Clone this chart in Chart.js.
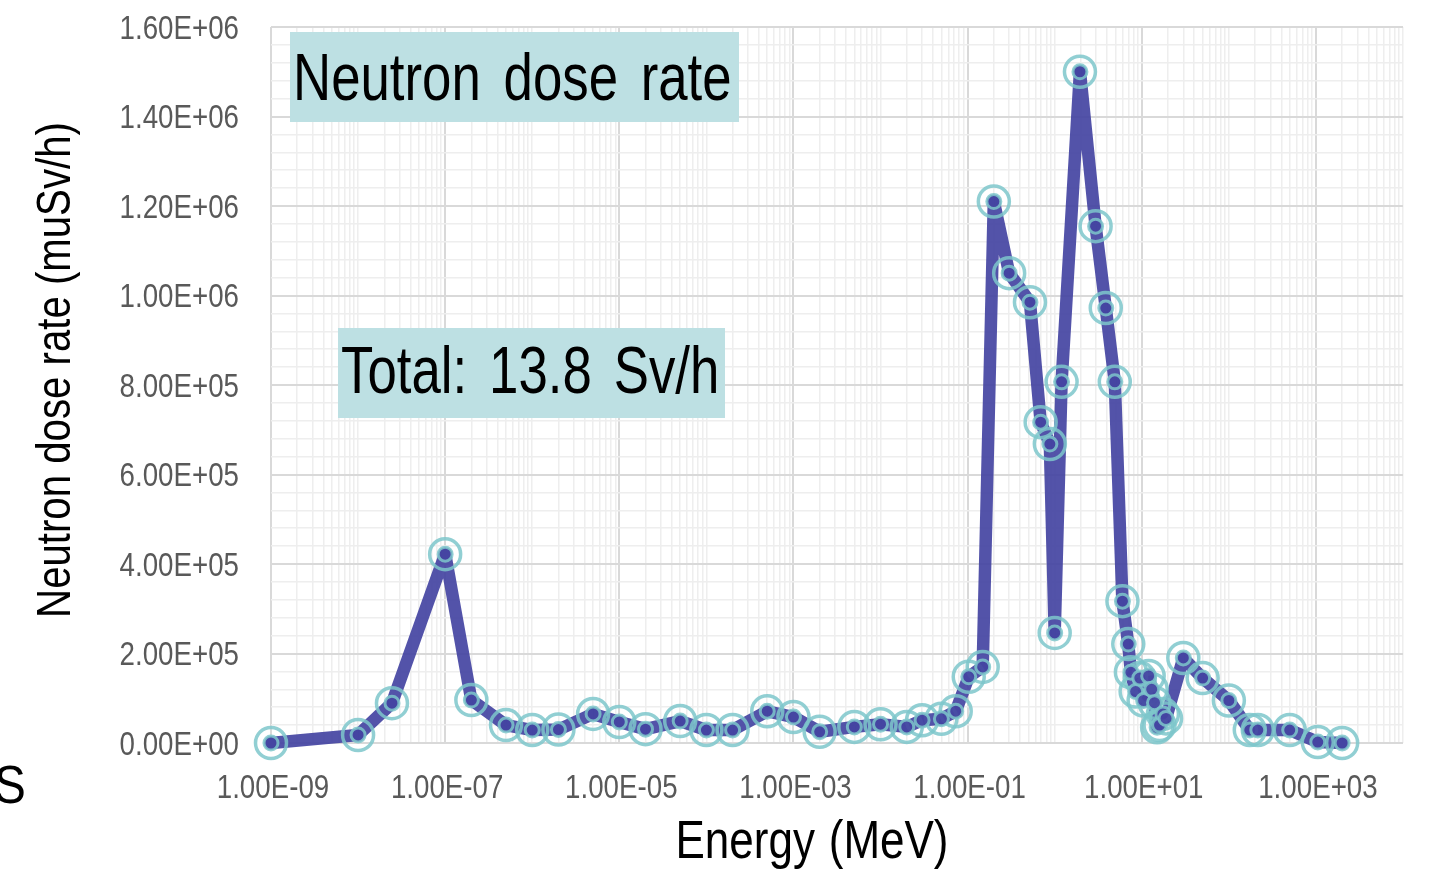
<!DOCTYPE html>
<html>
<head>
<meta charset="utf-8">
<title>Neutron dose rate</title>
<script src="https://cdn.jsdelivr.net/npm/chart.js@4.4.1/dist/chart.umd.min.js"></script>
<style>
  html, body { margin: 0; padding: 0; background: #ffffff; }
  canvas { display: block; }
</style>
</head>
<body>
<canvas id="doseChart" width="1430" height="877"></canvas>
<script>
// Neutron dose rate spectrum: energy bin (MeV) -> dose rate (muSv/h)
const energyMeV = [
  1e-9, 1e-8, 2.45e-8, 1e-7, 2e-7, 5e-7, 1e-6, 2e-6, 5e-6, 1e-5,
  2e-5, 5e-5, 1e-4, 2e-4, 5e-4, 1e-3, 2e-3, 5e-3, 1e-2, 2e-2,
  3e-2, 5e-2, 7.3e-2, 0.103, 0.149, 0.2, 0.3, 0.52, 0.69, 0.88,
  1.0, 1.2, 1.95, 2.95, 3.86, 4.9, 6.0, 7.0, 7.5, 8.5,
  9.5, 10.5, 12, 13, 14, 15, 16, 17.5, 19, 30,
  50, 100, 174, 215, 500, 1050, 2000
];
const doseRate = [
  0, 1.8e4, 8.9e4, 4.22e5, 9.6e4, 4.0e4, 2.9e4, 3.0e4, 6.5e4, 4.7e4,
  3.1e4, 4.9e4, 2.9e4, 2.9e4, 7.1e4, 5.8e4, 2.5e4, 3.6e4, 4.2e4, 3.6e4,
  5.1e4, 5.4e4, 7.1e4, 1.48e5, 1.70e5, 1.21e6, 1.05e6, 9.85e5, 7.17e5, 6.68e5,
  2.46e5, 8.07e5, 1.50e6, 1.155e6, 9.72e5, 8.07e5, 3.17e5, 2.21e5, 1.58e5, 1.15e5,
  1.45e5, 9.5e4, 1.5e5, 1.2e5, 9.0e4, 3.5e4, 4.0e4, 6.5e4, 5.5e4, 1.9e5,
  1.45e5, 9.5e4, 2.9e4, 2.9e4, 2.9e4, 2e3, 0
];

// axis ticks: a gridline at 1..9 x 10^n, a label every other decade
const xDecades = [-9, -8, -7, -6, -5, -4, -3, -2, -1, 0, 1, 2, 3, 4];
const xLabelDecades = [-9, -7, -5, -3, -1, 1, 3];
const yTicks = [];
for (let v = 0; v <= 1.6e6; v += 4e4) yTicks.push(v);
const yLabelStep = 2e5;

// no narrow face installed, so text is squeezed horizontally
const FONT = "'Liberation Sans', Arial, sans-serif";
const GRID_MAJOR = '#d9d9d9';
const GRID_MINOR = '#eeeeee';
const TICK_GREY = '#595959';
const LINE_BLUE = 'rgba(68, 68, 162, 0.92)';
const RING_TEAL = 'rgba(126, 199, 203, 0.85)';

function sci(v) {
  if (v === 0) return '0.00E+00';
  const exp = Math.floor(Math.log10(v) + 1e-9);
  const man = v / Math.pow(10, exp);
  const sign = exp < 0 ? '-' : '+';
  return man.toFixed(2) + 'E' + sign + String(Math.abs(exp)).padStart(2, '0');
}

function decadeOf(v) {
  const lg = Math.log10(v);
  const r = Math.round(lg);
  return Math.abs(lg - r) < 1e-6 ? r : null;
}

function isXLabel(v) {
  const d = decadeOf(v);
  return d !== null && xLabelDecades.includes(d);
}

function isYLabel(v) {
  return Math.abs(v / yLabelStep - Math.round(v / yLabelStep)) < 1e-6;
}

function narrowText(ctx, text, x, y, opts) {
  ctx.save();
  ctx.translate(x, y);
  if (opts.rotate) ctx.rotate(opts.rotate);
  ctx.scale(opts.squeeze || 0.82, 1);
  ctx.font = opts.size + 'px ' + FONT;
  ctx.fillStyle = opts.color || '#000000';
  ctx.textAlign = opts.align || 'left';
  ctx.textBaseline = 'alphabetic';
  if ('wordSpacing' in ctx) ctx.wordSpacing = (opts.wordSpacing || 0) + 'px';
  ctx.fillText(text, 0, 0);
  ctx.restore();
}

const points = energyMeV.map((e, i) => ({ x: e, y: doseRate[i] }));

// tick labels, text boxes and axis titles
const labelsPlugin = {
  id: 'labelsPlugin',
  afterDraw(chart) {
    const ctx = chart.ctx;
    const xs = chart.scales.x;
    const ys = chart.scales.y;

    ys.ticks.forEach(t => {
      if (!isYLabel(t.value)) return;
      narrowText(ctx, sci(t.value), 239, ys.getPixelForValue(t.value) + 11.5,
        { size: 33, squeeze: 0.84, align: 'right', color: TICK_GREY });
    });
    xs.ticks.forEach(t => {
      if (!isXLabel(t.value)) return;
      narrowText(ctx, sci(t.value), xs.getPixelForValue(t.value) + 2, 798,
        { size: 33, squeeze: 0.84, align: 'center', color: TICK_GREY });
    });

    const boxes = [
      { text: 'Neutron dose rate', x: 290, y: 32, w: 449, h: 90, tx: 293, ty: 100, ws: 10 },
      { text: 'Total: 13.8 Sv/h', x: 338, y: 328, w: 387, h: 90, tx: 341, ty: 393, ws: 9 }
    ];
    boxes.forEach(b => {
      ctx.fillStyle = '#bde0e3';
      ctx.fillRect(b.x, b.y, b.w, b.h);
      narrowText(ctx, b.text, b.tx, b.ty, { size: 66, squeeze: 0.8, wordSpacing: b.ws });
    });

    narrowText(ctx, 'Energy (MeV)', 812, 858, { size: 53, squeeze: 0.83, align: 'center', wordSpacing: 2 });
    narrowText(ctx, 'Neutron dose rate (muSv/h)', 70, 370,
      { size: 49, squeeze: 0.82, align: 'center', rotate: -Math.PI / 2 });
    narrowText(ctx, 'S', -6, 803, { size: 53, squeeze: 0.9 });
  }
};

new Chart(document.getElementById('doseChart'), {
  type: 'line',
  data: {
    datasets: [
      {
        // inner ring with dark centre
        data: points,
        showLine: false,
        pointRadius: 7,
        pointBorderWidth: 3,
        pointBackgroundColor: LINE_BLUE,
        pointBorderColor: RING_TEAL,
        clip: false,
        order: 1
      },
      {
        data: points,
        borderColor: LINE_BLUE,
        borderWidth: 12.5,
        borderJoinStyle: 'round',
        borderCapStyle: 'round',
        tension: 0,
        pointRadius: 15.5,
        pointBorderWidth: 3.5,
        pointBackgroundColor: 'rgba(0,0,0,0)',
        pointBorderColor: RING_TEAL,
        clip: false,
        order: 2
      }
    ]
  },
  options: {
    responsive: false,
    animation: false,
    layout: { padding: { top: 27, right: 27, left: 0, bottom: 0 } },
    plugins: {
      legend: { display: false },
      tooltip: { enabled: false }
    },
    scales: {
      x: {
        type: 'logarithmic',
        min: 1e-9,
        max: 1e4,
        afterBuildTicks: scale => {
          const ticks = [];
          xDecades.forEach(d => {
            const last = d === xDecades[xDecades.length - 1];
            for (let m = 1; m <= (last ? 1 : 9); m++) {
              ticks.push({ value: Number((m * Math.pow(10, d)).toPrecision(3)) });
            }
          });
          scale.ticks = ticks;
        },
        afterFit: scale => { scale.height = 134; },
        grid: {
          drawTicks: false,
          color: ctx => (ctx.tick && isXLabel(ctx.tick.value)) ? GRID_MAJOR : GRID_MINOR,
          lineWidth: ctx => (ctx.tick && isXLabel(ctx.tick.value)) ? 2 : 1.5
        },
        border: { display: false },
        ticks: { display: false, autoSkip: false }
      },
      y: {
        type: 'linear',
        min: 0,
        max: 1.6e6,
        afterBuildTicks: scale => {
          scale.ticks = yTicks.map(v => ({ value: v }));
        },
        afterFit: scale => { scale.width = 271; },
        grid: {
          drawTicks: false,
          color: ctx => (ctx.tick && isYLabel(ctx.tick.value)) ? GRID_MAJOR : GRID_MINOR,
          lineWidth: ctx => (ctx.tick && isYLabel(ctx.tick.value)) ? 2 : 1.5
        },
        border: { display: false },
        ticks: { display: false, autoSkip: false }
      }
    }
  },
  plugins: [labelsPlugin]
});
</script>
</body>
</html>
